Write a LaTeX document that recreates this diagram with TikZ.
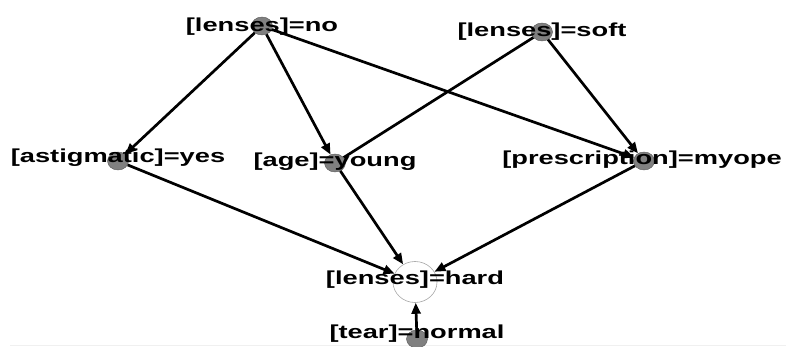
\documentclass[tikz,border=0pt]{standalone}
\usepackage{fontspec}
\newfontfamily\lblfont[FakeStretch=1.45]{Liberation Sans}
\usetikzlibrary{arrows.meta,shapes.geometric}

\begin{document}
\begin{tikzpicture}[x=1pt,y=-1pt,
		dot/.style={ellipse,draw=gray!70!black,line width=0.4pt,fill=gray,minimum width=21pt,minimum height=18pt,inner sep=0pt},
		goal/.style={ellipse,draw=gray!70,line width=0.6pt,fill=white,minimum width=44pt,minimum height=41pt,inner sep=0pt},
		lbl/.style={anchor=base,inner sep=0pt,font=\lblfont\bfseries\fontsize{18.8}{20}\selectfont},
		link/.style={line width=2.7pt},
		arc/.style={link,-{Triangle[length=11pt,width=9pt]}}]
		\useasboundingbox (0,0) rectangle (786,347);
		\draw[gray!12,line width=0.8pt] (10,345) -- (786,345);
		
		% the nodes
		\node[dot] (no) at (262,26) {};
		\node[dot] (soft) at (542,32) {};
		\node[dot] (astig) at (118,161) {};
		\node[dot] (young) at (335,163) {};
		\node[dot] (myope) at (644,161) {};
		\node[goal] (hard) at (415,282) {};
		\node[dot] (tear) at (417,339) {};
		
		% their texts
		\node[lbl] (no-l) at (262,32) {[lenses]=no};
		\node[lbl] (soft-l) at (542,37) {[lenses]=soft};
		\node[lbl] (astig-l) at (118,163) {[astigmatic]=yes};
		\node[lbl] (young-l) at (335,167) {[age]=young};
		\node[lbl] (myope-l) at (642,165) {[prescription]=myope};
		\node[lbl] (hard-l) at (415,284) {[lenses]=hard};
		\node[lbl] (tear-l) at (417,338) {[tear]=normal};
		
		% the links
		\foreach \a/\b in {no/astig, no/young, no/myope, soft/myope, astig/hard, young/hard, myope/hard, tear/hard}
			\draw[arc] (\a) -- (\b);
		\draw[link] (soft) -- (young);
	\end{tikzpicture}
\end{document}
